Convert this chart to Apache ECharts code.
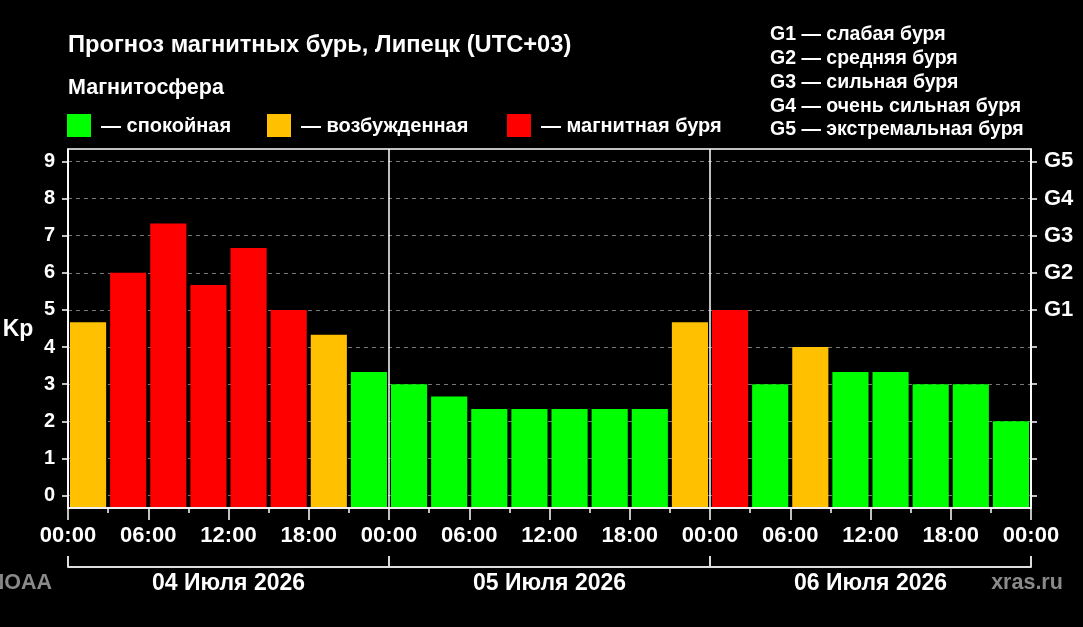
<!DOCTYPE html>
<html><head><meta charset="utf-8">
<script src="https://cdn.jsdelivr.net/npm/echarts@6/dist/echarts.min.js"></script>
<style>html,body{margin:0;padding:0;background:#000;}#c{width:1083px;height:627px;}</style>
</head><body><div id="c"></div>
<script>
// ---- data ----
const binStartHours = [0,3,6,9,12,15,18,21,24,27,30,33,36,39,42,45,48,51,54,57,60,63,66,69];
const kpValues = [4.67,6.00,7.33,5.67,6.67,5.00,4.33,3.33,3.00,2.67,2.33,2.33,2.33,2.33,2.33,4.67,5.00,3.00,4.00,3.33,3.33,3.00,3.00,2.00];
const dayLabels = ['04 Июля 2026','05 Июля 2026','06 Июля 2026'];
const kpTicks = [0,1,2,3,4,5,6,7,8,9];
const gTicks = [5,6,7,8,9];
const gNames = ['G1','G2','G3','G4','G5'];
const gLegend = ['G1 — слабая буря','G2 — средняя буря','G3 — сильная буря','G4 — очень сильная буря','G5 — экстремальная буря'];
const stateLegend = ['— спокойная','— возбужденная','— магнитная буря'];
const titleText = 'Прогноз магнитных бурь, Липецк (UTC+03)';

const GREEN='#00ff00', ORANGE='#ffc000', RED='#ff0000';
const stateColors=[GREEN,ORANGE,RED];
function colorFor(v){ return v>=5?RED:(v>=4?ORANGE:GREEN); }
const Y_MIN=-1/3, Y_MAX=28/3, BIN=3;
const FONT='"Liberation Sans", Arial, sans-serif';

const chart = echarts.init(document.getElementById('c'), null, {renderer:'canvas'});
const seriesData = binStartHours.map((h,i)=>[h,kpValues[i]]);

const graphics = [];
function txt(x,y,text,size,opts){
  graphics.push({type:'text',x:x,y:y,style:{text:text,fill:(opts&&opts.fill)||'#fff',font:'bold '+size+'px '+FONT,textAlign:(opts&&opts.align)||'left',textVerticalAlign:'middle'}});
}
txt(68,45,titleText,23.7);
txt(68,88,'Магнитосфера',21.5);
const legX=[67,267,507];
stateLegend.forEach((s,i)=>{
  graphics.push({type:'rect',shape:{x:legX[i],y:114,width:24,height:23},style:{fill:stateColors[i]}});
  txt(legX[i]+34,126,s,20);
});
gLegend.forEach((s,i)=>txt(770,35+i*23.75,s,19.5));
txt(18,330,'Kp',23,{align:'center'});
txt(52,583,'NOAA',21.5,{align:'right',fill:'#8a8a8a'});
txt(1027,583,'xras.ru',21.5,{align:'center',fill:'#8a8a8a'});

const labelStyle={color:'#fff',fontWeight:'bold',fontFamily:FONT};

chart.setOption({
  backgroundColor:'#000',
  animation:false,
  grid:{left:68,right:52,top:149,bottom:119,show:true,borderColor:'#fff',borderWidth:1.5,containLabel:false},
  xAxis:[{
    type:'value',min:0,max:72,interval:6,position:'bottom',
    axisLine:{show:true,onZero:false,lineStyle:{color:'#fff',width:1.5}},
    axisTick:{show:true,length:12,lineStyle:{color:'#fff',width:1.5}},
    minorTick:{show:true,splitNumber:2,length:5,lineStyle:{color:'#fff',width:1.5}},
    splitLine:{show:false},
    axisLabel:Object.assign({fontSize:22,margin:17,formatter:v=>String(v%24).padStart(2,'0')+':00'},labelStyle)
  },{
    type:'category',data:dayLabels,position:'bottom',offset:59,boundaryGap:true,
    axisLine:{show:true,onZero:false,lineStyle:{color:'#ddd',width:2}},
    axisTick:{show:true,inside:true,length:11,lineStyle:{color:'#ddd',width:2}},
    splitLine:{show:true,lineStyle:{color:'#fff',width:1.5}},
    axisLabel:Object.assign({fontSize:23,margin:5},labelStyle)
  }],
  yAxis:[{
    type:'value',min:Y_MIN,max:Y_MAX,position:'left',
    axisLine:{show:true,onZero:false,lineStyle:{color:'#fff',width:1.5}},
    axisTick:{show:true,length:6,customValues:kpTicks,lineStyle:{color:'#fff',width:1.5}},
    axisLabel:Object.assign({fontSize:20,margin:13,customValues:kpTicks},labelStyle),
    splitLine:{show:true,lineStyle:{color:'#777',width:1,type:[4,4]}}
  },{
    type:'value',min:Y_MIN,max:Y_MAX,position:'right',
    axisLine:{show:true,onZero:false,lineStyle:{color:'#fff',width:1.5}},
    axisTick:{show:true,length:6,customValues:kpTicks,lineStyle:{color:'#fff',width:1.5}},
    axisLabel:Object.assign({fontSize:22,margin:13,customValues:gTicks,formatter:v=>gNames[gTicks.indexOf(Math.round(v))]||''},labelStyle),
    splitLine:{show:false}
  }],
  series:[{
    type:'custom',xAxisIndex:0,yAxisIndex:0,
    data:seriesData,
    renderItem:function(params,api){
      const x0=api.value(0), v=api.value(1);
      const top=api.coord([x0,v]);
      const bot=api.coord([x0+BIN,Y_MIN]);
      const gap=4;
      return {type:'rect',shape:{x:top[0]+gap/2,y:top[1],width:bot[0]-top[0]-gap,height:bot[1]-top[1]-1},style:{fill:colorFor(v)}};
    }
  }],
  graphic:graphics
});
</script></body></html>
